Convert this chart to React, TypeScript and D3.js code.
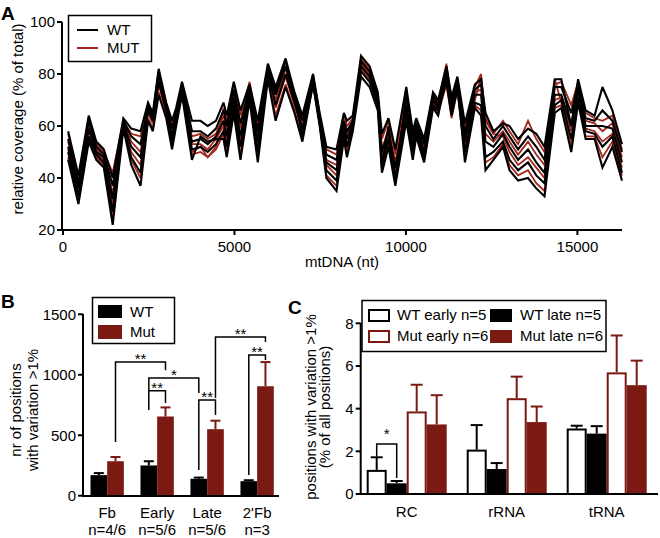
import React from 'react';
import * as d3 from 'd3';

const FONT = "'Liberation Sans', Arial, Helvetica, sans-serif";
const BLACK = '#000000';
const RED_LINE = '#a3271d';
const RED_BAR = '#7a1a12';

// ---------- Panel A data ----------
const positionsNt = [150,450,750,970,1190,1450,1760,1990,2260,2480,2620,2790,3010,3180,3300,3470,3760,4010,4220,4460,4680,4775,4980,5175,5440,5680,5975,6200,6490,6750,6980,7290,7485,7680,7975,8190,8280,8450,8690,8940,9180,9300,9490,9690,10010,10200,10300,10530,10790,10940,11180,11330,11500,11720,12010,12190,12320,12550,12830,13020,13270,13560,13800,14040,14340,14530,14820,15020,15240,15500,15730,16020,16300];

const wt1 = [47,30,54,47,44,22,59,45,37,62,58,72,63,51,60,72,47,56,54,55,55,48,65,47,70,46,78,62,75,65,54,76,60,40,35,55,48,58,79,75,66,42,52,37,62,47,56,46,67,64,80,68,77,46,67,64,43,47,52,43,39,40,36,33,65,67,50,69,55,55,44,52,39];
const wt2 = [50,33,56,49,46,27,60,48,42,68,64,81,68,54,62,73,51,52,50,53,58,52,68,52,72,50,80,74,85,72,56,77,61,43,39,58,52,60,81,77,68,46,55,40,65,50,58,48,68,66,77,64,74,50,69,68,48,50,54,47,43,46,41,38,68,70,55,71,58,57,52,56,42];
const wt3 = [52,36,59,50,48,32,61,52,48,66,62,77,66,56,64,74,54,55,53,56,62,56,71,56,74,54,81,68,80,69,59,78,62,46,43,60,55,61,83,79,70,50,58,44,68,52,60,50,70,67,80,66,76,54,72,72,54,52,57,52,47,51,46,42,72,72,60,74,60,60,60,59,46];
const wt4 = [55,38,62,52,49,37,62,56,53,67,63,80,68,59,65,76,58,58,56,59,66,60,74,61,75,58,82,72,83,71,62,79,64,49,47,62,58,62,85,81,71,44,60,38,72,55,61,53,72,68,82,69,78,57,74,76,60,55,60,56,51,56,52,47,75,75,65,76,63,62,66,62,50];
const wt5 = [58,41,64,54,51,40,63,59,58,69,65,82,69,62,67,77,62,62,60,62,69,64,77,66,76,62,84,75,86,73,64,80,65,52,51,65,62,64,87,83,73,57,63,51,75,58,63,55,73,70,83,71,79,61,76,78,65,58,61,60,55,59,57,52,78,78,60,78,66,64,75,66,53];

const mut1 = [48,31,55,48,45,24,60,47,40,63,59,73,64,52,61,73,49,50,48,51,57,50,66,49,71,48,79,64,76,66,55,76,61,41,37,56,50,59,84,80,71,44,53,39,64,48,57,47,68,65,76,63,74,48,68,66,46,48,53,45,41,43,38,35,67,68,52,70,56,56,48,54,41];
const mut2 = [51,34,58,50,47,30,60,50,45,65,61,76,65,55,63,74,53,53,51,55,60,54,70,54,73,52,80,67,79,68,58,77,62,45,41,59,53,60,82,78,69,48,56,42,67,51,59,49,69,66,78,65,75,52,70,79,63,57,56,50,45,48,44,40,70,71,58,72,59,58,54,57,44];
const mut3 = [54,37,60,51,48,34,62,54,50,66,62,78,67,58,64,75,56,57,55,57,64,58,72,59,74,56,82,70,82,70,60,78,63,47,45,61,57,62,84,80,70,51,59,46,70,54,60,52,71,68,81,68,77,55,73,74,57,54,58,54,49,54,49,45,78,69,52,75,62,61,58,61,48];
const mut4 = [57,40,63,53,50,42,62,57,56,68,64,81,68,61,66,76,50,52,48,52,67,62,76,64,77,60,83,73,85,72,63,80,64,51,49,64,60,63,86,82,72,55,62,49,73,57,62,54,72,69,84,70,78,59,75,80,62,57,62,58,53,62,55,50,76,77,68,77,65,63,62,64,51];

const wtSeries = [wt1, wt2, wt3, wt4, wt5];
const mutSeries = [mut1, mut2, mut3, mut4];

const xTicksA = [0, 5000, 10000, 15000];
const yTicksA = [20, 40, 60, 80, 100];

// ---------- Panel B data ----------
const groupsB = ['Fb', 'Early', 'Late', "2'Fb"];
const nLabelsB = ['n=4/6', 'n=5/6', 'n=5/6', 'n=3'];
const seriesB = ['WT', 'Mut'];
const wtB = [170, 250, 140, 120];
const wtBErr = [17, 35, 10, 8];
const mutB = [285, 655, 550, 905];
const mutBErr = [35, 75, 70, 200];
const yTicksB = [0, 500, 1000, 1500];

const bracketsB = [
  { g1: 'Fb', s1: 'Mut', v1: 444, g2: 'Early', s2: 'Mut', v2: 1038, top: 1105, label: '**' },
  { g1: 'Early', s1: 'WT', v1: 874, g2: 'Late', s2: 'WT', v2: 850, top: 974, label: '*' },
  { g1: 'Early', s1: 'WT', v1: 709, g2: 'Early', s2: 'Mut', v2: 766, top: 868, label: '**' },
  { g1: 'Late', s1: 'WT', v1: 212, g2: 'Late', s2: 'Mut', v2: 667, top: 791, label: '**' },
  { g1: "2'Fb", s1: 'WT', v1: 171, g2: "2'Fb", s2: 'Mut', v2: 1122, top: 1163, label: '**' },
  { g1: 'Late', s1: 'Mut', v1: 808, g2: "2'Fb", s2: 'Mut', v2: 1271, top: 1313, label: '**' },
];

// ---------- Panel C data ----------
const groupsC = ['RC', 'rRNA', 'tRNA'];
const seriesC = ['WT early n=5', 'WT late n=5', 'Mut early n=6', 'Mut late n=6'];
const wtEarlyC = [1.13, 2.08, 3.07];
const wtEarlyCErr = [0.59, 1.15, 0.13];
const wtLateC = [0.5, 1.17, 2.83];
const wtLateCErr = [0.11, 0.28, 0.35];
const mutEarlyC = [3.87, 4.49, 5.7];
const mutEarlyCErr = [1.25, 1.01, 1.73];
const mutLateC = [3.26, 3.37, 5.1];
const mutLateCErr = [1.37, 0.73, 1.15];
const yTicksC = [0, 2, 4, 6, 8];
const bracketsC = [
  { g1: 'RC', s1: 'WT early n=5', v1: 1.75, g2: 'RC', s2: 'WT late n=5', v2: 0.75, top: 2.34, label: '*' },
];

const FS = 15;

export default function App() {
  // ===== Panel A =====
  const xA = d3.scaleLinear().domain([0, 16300]).range([63, 622]);
  const yA = d3.scaleLinear().domain([20, 100]).range([230, 22]);
  const lineA = d3.line<number>().x((_, i) => xA(positionsNt[i])).y(d => yA(d));

  // ===== Panel B =====
  const xB = d3.scaleBand<string>().domain(groupsB).range([83, 281.3]).paddingInner(0.333).paddingOuter(0.15);
  const xBs = d3.scaleBand<string>().domain(seriesB).range([0, xB.bandwidth()]);
  const yB = d3.scaleLinear().domain([0, 1500]).range([495.7, 314.3]);
  const bxB = (g: string, s: string) => (xB(g) as number) + (xBs(s) as number) + xBs.bandwidth() / 2;

  // ===== Panel C =====
  const xC = d3.scaleBand<string>().domain(groupsC).range([360.7, 652.7]).paddingInner(0.2).paddingOuter(0.06);
  const xCs = d3.scaleBand<string>().domain(seriesC).range([0, xC.bandwidth()]);
  const yC = d3.scaleLinear().domain([0, 8]).range([494, 323.3]);
  const bxC = (g: string, s: string) => (xC(g) as number) + (xCs(s) as number) + xCs.bandwidth() / 2;

  const cVals = [wtEarlyC, wtLateC, mutEarlyC, mutLateC];
  const cErrs = [wtEarlyCErr, wtLateCErr, mutEarlyCErr, mutLateCErr];
  const cStroke = [BLACK, BLACK, RED_BAR, RED_BAR];
  const cFill = ['#ffffff', BLACK, '#ffffff', RED_BAR];

  const bVals = [wtB, mutB];
  const bErrs = [wtBErr, mutBErr];
  const bFill = [BLACK, RED_BAR];

  const txt = { fontFamily: FONT, fontSize: FS, fill: BLACK } as const;

  return (
    <svg width={660} height={538} style={{ position: 'absolute', left: 0, top: 0, background: '#fff' }}>
      <rect x={0} y={0} width={660} height={538} fill="#fff" />

      {/* ================= Panel A ================= */}
      <text x={1} y={20} style={{ fontFamily: FONT, fontSize: 19, fontWeight: 'bold' }}>A</text>
      <g fill="none" strokeLinejoin="miter" strokeMiterlimit={3}>
        {mutSeries.map((s, i) => (
          <path key={'m' + i} d={lineA(s) as string} stroke={RED_LINE} strokeWidth={1.8} />
        ))}
        {wtSeries.map((s, i) => (
          <path key={'w' + i} d={lineA(s) as string} stroke={BLACK} strokeWidth={2.1} />
        ))}
      </g>
      {/* axes */}
      <line x1={62} x2={62} y1={22} y2={231} stroke={BLACK} strokeWidth={2} />
      <line x1={61} x2={622} y1={230} y2={230} stroke={BLACK} strokeWidth={2} />
      {yTicksA.map(t => (
        <g key={'ya' + t}>
          <line x1={57} x2={62} y1={yA(t)} y2={yA(t)} stroke={BLACK} strokeWidth={2} />
          <text x={55} y={yA(t)} dy="0.36em" textAnchor="end" style={txt}>{t}</text>
        </g>
      ))}
      {xTicksA.map(t => (
        <g key={'xa' + t}>
          <line x1={xA(t)} x2={xA(t)} y1={230} y2={235} stroke={BLACK} strokeWidth={2} />
          <text x={xA(t)} y={252} textAnchor="middle" style={txt}>{t}</text>
        </g>
      ))}
      <text x={342} y={267} textAnchor="middle" style={txt}>mtDNA (nt)</text>
      <text transform={`translate(23,119) rotate(-90)`} textAnchor="middle" style={txt}>relative coverage (% of total)</text>
      {/* legend A */}
      <rect x={68.5} y={15.5} width={83} height={46} fill="#fff" stroke={BLACK} strokeWidth={1.5} />
      <line x1={77} x2={98} y1={30} y2={30} stroke={BLACK} strokeWidth={2} />
      <line x1={77} x2={98} y1={48} y2={48} stroke={RED_LINE} strokeWidth={2} />
      <text x={107} y={35} style={txt}>WT</text>
      <text x={107} y={53} style={txt}>MUT</text>

      {/* ================= Panel B ================= */}
      <text x={1} y={308} style={{ fontFamily: FONT, fontSize: 19, fontWeight: 'bold' }}>B</text>
      {groupsB.map((g, gi) => (
        <g key={'gb' + g}>
          {seriesB.map((s, si) => {
            const v = bVals[si][gi];
            const e = bErrs[si][gi];
            const cx = bxB(g, s);
            const x0 = (xB(g) as number) + (xBs(s) as number);
            return (
              <g key={s}>
                <line x1={cx} x2={cx} y1={yB(v)} y2={yB(v + e)} stroke={bFill[si]} strokeWidth={2} />
                <line x1={cx - 5} x2={cx + 5} y1={yB(v + e)} y2={yB(v + e)} stroke={bFill[si]} strokeWidth={2} />
                <rect x={x0} y={yB(v)} width={xBs.bandwidth()} height={yB(0) - yB(v)} fill={bFill[si]} />
              </g>
            );
          })}
          <text x={(xB(g) as number) + xB.bandwidth() / 2} y={518} textAnchor="middle" style={txt}>{g}</text>
          <text x={(xB(g) as number) + xB.bandwidth() / 2} y={535} textAnchor="middle" style={txt}>{nLabelsB[gi]}</text>
        </g>
      ))}
      {bracketsB.map((b, i) => {
        const x1 = bxB(b.g1, b.s1);
        const x2 = bxB(b.g2, b.s2);
        const yt = yB(b.top);
        return (
          <g key={'bb' + i}>
            <path d={`M${x1},${yB(b.v1)}V${yt}H${x2}V${yB(b.v2)}`} fill="none" stroke={BLACK} strokeWidth={1.5} />
            <text x={(x1 + x2) / 2} y={yt + 2} textAnchor="middle" style={txt}>{b.label}</text>
          </g>
        );
      })}
      <line x1={83} x2={83} y1={314} y2={497} stroke={BLACK} strokeWidth={2} />
      <line x1={82} x2={279} y1={496} y2={496} stroke={BLACK} strokeWidth={2} />
      {yTicksB.map(t => (
        <g key={'yb' + t}>
          <line x1={78} x2={83} y1={yB(t)} y2={yB(t)} stroke={BLACK} strokeWidth={2} />
          <text x={76} y={yB(t)} dy="0.36em" textAnchor="end" style={txt}>{t}</text>
        </g>
      ))}
      <text transform={`translate(21,410) rotate(-90)`} textAnchor="middle" style={txt}>nr of positions</text>
      <text transform={`translate(37.5,410) rotate(-90)`} textAnchor="middle" style={txt}>with variation &gt;1%</text>
      {/* legend B */}
      <rect x={92.5} y={297.5} width={82} height={46} fill="#fff" stroke={BLACK} strokeWidth={1.5} />
      <rect x={98} y={305} width={24} height={13} fill={BLACK} />
      <rect x={98} y={325} width={24} height={14} fill={RED_BAR} />
      <text x={130} y={317} style={txt}>WT</text>
      <text x={130} y={337} style={txt}>Mut</text>

      {/* ================= Panel C ================= */}
      <text x={288} y={314} style={{ fontFamily: FONT, fontSize: 19, fontWeight: 'bold' }}>C</text>
      {groupsC.map((g, gi) => (
        <g key={'gc' + g}>
          {seriesC.map((s, si) => {
            const v = cVals[si][gi];
            const e = cErrs[si][gi];
            const cx = bxC(g, s);
            const x0 = (xC(g) as number) + (xCs(s) as number);
            return (
              <g key={s}>
                <line x1={cx} x2={cx} y1={yC(v)} y2={yC(v + e)} stroke={cStroke[si]} strokeWidth={2} />
                <line x1={cx - 6} x2={cx + 6} y1={yC(v + e)} y2={yC(v + e)} stroke={cStroke[si]} strokeWidth={2} />
                <rect x={x0 + 1} y={yC(v) + 1} width={xCs.bandwidth() - 2} height={yC(0) - yC(v) - 1} fill={cFill[si]} stroke={cStroke[si]} strokeWidth={2} />
              </g>
            );
          })}
          <text x={(xC(g) as number) + xC.bandwidth() / 2} y={517} textAnchor="middle" style={txt}>{g}</text>
        </g>
      ))}
      {bracketsC.map((b, i) => {
        const x1 = bxC(b.g1, b.s1);
        const x2 = bxC(b.g2, b.s2);
        const yt = yC(b.top);
        return (
          <g key={'bc' + i}>
            <path d={`M${x1},${yC(b.v1)}V${yt}H${x2}V${yC(b.v2)}`} fill="none" stroke={BLACK} strokeWidth={1.5} />
            <text x={(x1 + x2) / 2} y={yt - 5} textAnchor="middle" style={txt}>{b.label}</text>
          </g>
        );
      })}
      <line x1={360.7} x2={360.7} y1={323} y2={495} stroke={BLACK} strokeWidth={2} />
      <line x1={359.7} x2={658} y1={494} y2={494} stroke={BLACK} strokeWidth={2} />
      {yTicksC.map(t => (
        <g key={'yc' + t}>
          <line x1={355.7} x2={360.7} y1={yC(t)} y2={yC(t)} stroke={BLACK} strokeWidth={2} />
          <text x={353.5} y={yC(t)} dy="0.36em" textAnchor="end" style={txt}>{t}</text>
        </g>
      ))}
      <text transform={`translate(315.5,407) rotate(-90)`} textAnchor="middle" style={txt}>positions with variation &gt;1%</text>
      <text transform={`translate(329.5,407) rotate(-90)`} textAnchor="middle" style={txt}>(% of all positions)</text>
      {/* legend C */}
      <rect x={362} y={300.5} width={244} height={51} fill="#fff" stroke={BLACK} strokeWidth={1.5} />
      {seriesC.map((s, si) => {
        const col = si % 2;
        const row = Math.floor(si / 2);
        const sx = col === 0 ? 368 : 490;
        const sy = row === 0 ? 309 : 330;
        return (
          <g key={'lc' + s}>
            <rect x={sx + 1} y={sy + 1} width={20} height={11} fill={cFill[si]} stroke={cStroke[si]} strokeWidth={2} />
            <text x={sx + (col === 0 ? 29 : 30)} y={sy + 11} style={txt}>{s}</text>
          </g>
        );
      })}
    </svg>
  );
}
